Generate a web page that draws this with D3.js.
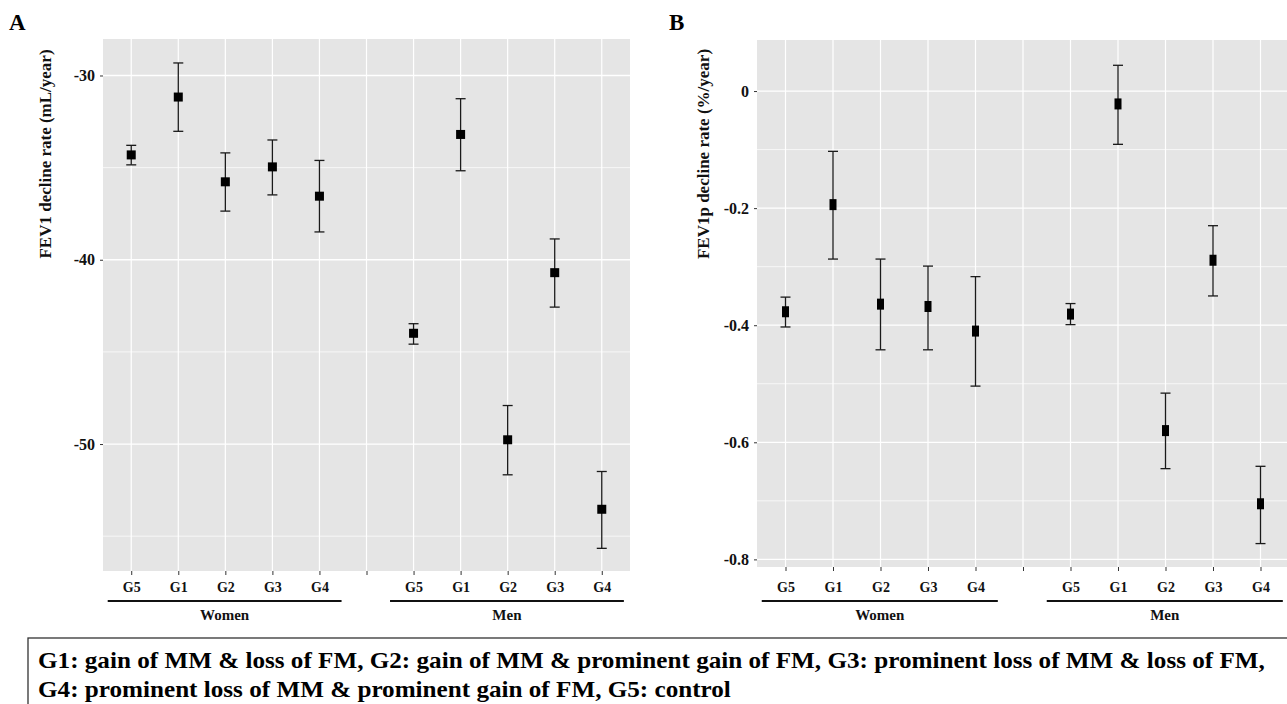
<!DOCTYPE html>
<html>
<head>
<meta charset="utf-8">
<script src="https://cdn.jsdelivr.net/npm/d3@7"></script>
<style>
  html, body { margin: 0; padding: 0; background: #fff; overflow: hidden; }
  svg { display: block; }
  svg text { font-family: "Liberation Serif", "Times New Roman", Times, serif !important; }
</style>
</head>
<body>
<svg id="chart" width="1287" height="704"></svg>
<script>
// Body-composition change groups and sexes
const groupLabels = ["G5", "G1", "G2", "G3", "G4"];
const sexLabels = ["Women", "Men"];

// FEV1 decline rate (mL/year): estimate and 95% CI bounds
const fev1WomenMean = [-34.31, -31.17, -35.77, -34.96, -36.55];
const fev1WomenLow  = [-34.85, -33.03, -37.36, -36.48, -38.49];
const fev1WomenHigh = [-33.79, -29.32, -34.20, -33.50, -34.61];
const fev1MenMean   = [-43.99, -33.20, -49.77, -40.70, -53.54];
const fev1MenLow    = [-44.58, -35.17, -51.67, -42.57, -55.66];
const fev1MenHigh   = [-43.47, -31.26, -47.91, -38.87, -51.49];

// FEV1p decline rate (%/year): estimate and 95% CI bounds
const fev1pWomenMean = [-0.377, -0.194, -0.364, -0.368, -0.410];
const fev1pWomenLow  = [-0.403, -0.287, -0.442, -0.442, -0.504];
const fev1pWomenHigh = [-0.352, -0.103, -0.287, -0.299, -0.317];
const fev1pMenMean   = [-0.381, -0.022, -0.580, -0.289, -0.705];
const fev1pMenLow    = [-0.399, -0.091, -0.645, -0.350, -0.773];
const fev1pMenHigh   = [-0.363,  0.044, -0.516, -0.230, -0.641];

// Axis ticks
const fev1MajorTicks = [-30, -40, -50];
const fev1MinorTicks = [-35, -45, -55];
const fev1pMajorTicks = [0, -0.2, -0.4, -0.6, -0.8];
const fev1pMinorTicks = [-0.1, -0.3, -0.5, -0.7];

// Footnote
const legendLines = [
  "G1: gain of MM & loss of FM, G2: gain of MM & prominent gain of FM, G3: prominent loss of MM & loss of FM,",
  "G4: prominent loss of MM & prominent gain of FM, G5: control"
];

// Category slots: five women groups, an empty spacer, five men groups
const categoryKeys = [
  ...groupLabels.map(g => "Women-" + g),
  "gap",
  ...groupLabels.map(g => "Men-" + g)
];

function buildRows(wMean, wLow, wHigh, mMean, mLow, mHigh) {
  const rows = [];
  groupLabels.forEach((g, i) => rows.push({ key: "Women-" + g, mean: wMean[i], low: wLow[i], high: wHigh[i] }));
  groupLabels.forEach((g, i) => rows.push({ key: "Men-" + g, mean: mMean[i], low: mLow[i], high: mHigh[i] }));
  return rows;
}

const svg = d3.select("#chart");

// shared vertical positions of the x labels and sex brackets
const xLabelY = 592;
const bracketY = 601;
const sexLabelY = 620;

function drawPanel(cfg) {
  const g = svg.append("g");
  const x = d3.scalePoint().domain(categoryKeys).range([cfg.left, cfg.right]).padding(0.6);
  const y = d3.scaleLinear().domain(cfg.domain).range([cfg.bottom, cfg.top]);
  const step = x.step();

  // panel background
  g.append("rect")
    .attr("x", cfg.left).attr("y", cfg.top)
    .attr("width", cfg.right - cfg.left).attr("height", cfg.bottom - cfg.top)
    .attr("fill", "#e5e5e5");

  // grid
  g.selectAll(".minor").data(cfg.minor).join("line")
    .attr("x1", cfg.left).attr("x2", cfg.right)
    .attr("y1", d => y(d)).attr("y2", d => y(d))
    .attr("stroke", "#fff").attr("stroke-width", 0.7);
  g.selectAll(".major").data(cfg.major).join("line")
    .attr("x1", cfg.left).attr("x2", cfg.right)
    .attr("y1", d => y(d)).attr("y2", d => y(d))
    .attr("stroke", "#fff").attr("stroke-width", 1.3);
  g.selectAll(".vgrid").data(categoryKeys).join("line")
    .attr("x1", d => x(d)).attr("x2", d => x(d))
    .attr("y1", cfg.top).attr("y2", cfg.bottom)
    .attr("stroke", "#fff").attr("stroke-width", 1.2);

  // y axis
  const yAxis = d3.axisLeft(y).tickValues(cfg.major).tickSize(3).tickPadding(5)
    .tickFormat(d => d === 0 ? "0" : String(d));
  const ya = g.append("g").attr("transform", `translate(${cfg.left},0)`).call(yAxis);
  ya.select(".domain").remove();
  ya.selectAll(".tick line").attr("stroke", "#333");
  ya.selectAll(".tick text")
    .attr("fill", "#111").attr("font-size", 16).attr("font-weight", "bold");

  // x axis
  const xAxis = d3.axisBottom(x).tickSize(4).tickPadding(8)
    .tickFormat(d => d === "gap" ? "" : d.split("-")[1]);
  const xa = g.append("g").attr("transform", `translate(0,${cfg.bottom})`).call(xAxis);
  xa.select(".domain").remove();
  xa.selectAll(".tick line").attr("stroke", "#333");
  xa.selectAll(".tick text")
    .attr("y", null).attr("dy", null)
    .attr("transform", `translate(0,${xLabelY - cfg.bottom})`)
    .attr("fill", "#111").attr("font-size", 14).attr("font-weight", "bold");

  // group brackets below the axis
  sexLabels.forEach(sex => {
    const x0 = x(sex + "-" + groupLabels[0]) - 0.5 * step;
    const x1 = x(sex + "-" + groupLabels[groupLabels.length - 1]) + 0.47 * step;
    g.append("line")
      .attr("x1", x0).attr("x2", x1)
      .attr("y1", bracketY).attr("y2", bracketY)
      .attr("stroke", "#111").attr("stroke-width", 2);
    g.append("text")
      .attr("x", (x0 + x1) / 2).attr("y", sexLabelY)
      .attr("text-anchor", "middle")
      .attr("font-size", 15).attr("font-weight", "bold").attr("fill", "#111")
      .text(sex);
  });

  // error bars
  const bars = g.append("g");
  bars.selectAll(".ci").data(cfg.rows).join("line")
    .attr("x1", d => x(d.key)).attr("x2", d => x(d.key))
    .attr("y1", d => y(d.low)).attr("y2", d => y(d.high))
    .attr("stroke", "#1a1a1a").attr("stroke-width", 1.3);
  ["low", "high"].forEach(k => {
    bars.selectAll(".cap-" + k).data(cfg.rows).join("line")
      .attr("x1", d => x(d.key) - cfg.cap / 2).attr("x2", d => x(d.key) + cfg.cap / 2)
      .attr("y1", d => y(d[k])).attr("y2", d => y(d[k]))
      .attr("stroke", "#1a1a1a").attr("stroke-width", 1.3);
  });
  bars.selectAll(".pt").data(cfg.rows).join("rect")
    .attr("x", d => x(d.key) - cfg.mw / 2).attr("y", d => y(d.mean) - cfg.mh / 2)
    .attr("width", cfg.mw).attr("height", cfg.mh)
    .attr("fill", "#000");

  // y axis title
  g.append("text")
    .attr("transform", `translate(${cfg.titleX},${cfg.titleCenterY}) rotate(-90)`)
    .attr("text-anchor", "middle")
    .attr("font-size", 17).attr("font-weight", "bold").attr("fill", "#111")
    .text(cfg.title);

  // panel letter
  g.append("text")
    .attr("x", cfg.letterX).attr("y", 30)
    .attr("font-size", 23).attr("font-weight", "bold").attr("fill", "#000")
    .text(cfg.letter);
}

drawPanel({
  letter: "A", letterX: 9,
  left: 103, right: 630, top: 39, bottom: 571,
  domain: [-56.89, -28.02],
  major: fev1MajorTicks, minor: fev1MinorTicks,
  rows: buildRows(fev1WomenMean, fev1WomenLow, fev1WomenHigh, fev1MenMean, fev1MenLow, fev1MenHigh),
  title: "FEV1 decline rate (mL/year)", titleX: 51, titleCenterY: 154,
  mw: 9, mh: 9, cap: 10
});

drawPanel({
  letter: "B", letterX: 669,
  left: 757, right: 1289, top: 40, bottom: 567,
  domain: [-0.813, 0.0872],
  major: fev1pMajorTicks, minor: fev1pMinorTicks,
  rows: buildRows(fev1pWomenMean, fev1pWomenLow, fev1pWomenHigh, fev1pMenMean, fev1pMenLow, fev1pMenHigh),
  title: "FEV1p decline rate (%/year)", titleX: 709, titleCenterY: 154,
  mw: 7, mh: 11, cap: 10
});

// footnote box
svg.append("rect")
  .attr("x", 28).attr("y", 638).attr("width", 1300).attr("height", 100)
  .attr("fill", "none").attr("stroke", "#333").attr("stroke-width", 1.3);

const noteG = svg.append("g");
const noteTexts = noteG.selectAll("text").data(legendLines).join("text")
  .attr("x", 0).attr("y", (d, i) => 668 + i * 29)
  .attr("font-size", 24).attr("font-weight", "bold").attr("fill", "#000")
  .text(d => d);
const natural = noteTexts.nodes()[0].getComputedTextLength();
const sx = (1265 - 38) / natural;
noteG.attr("transform", `translate(38,0) scale(${sx},1)`);
</script>
</body>
</html>
